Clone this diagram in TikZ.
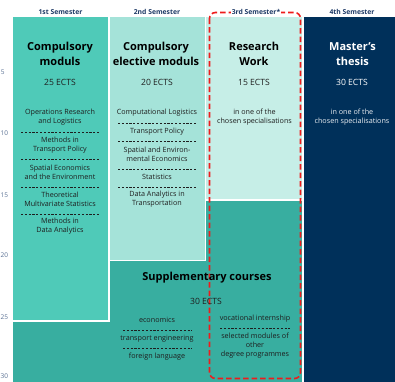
\documentclass[tikz,border=0pt]{standalone}
\usepackage{fontspec}
\setmainfont{Open Sans}
\definecolor{cA}{HTML}{4FCAB8}
\definecolor{cB}{HTML}{A5E3D9}
\definecolor{cC}{HTML}{C6EEE7}
\definecolor{cS}{HTML}{38AEA0}
\definecolor{cN}{HTML}{00305A}
\definecolor{hdrc}{HTML}{1E3A66}
\definecolor{axc}{HTML}{5A7194}
\definecolor{txt}{HTML}{1E1E1E}
\definecolor{redd}{HTML}{EE1C1C}
\tikzset{
  region/.style={draw=white, line width=1.2pt},
  hdr/.style={font=\fontsize{6.8}{8}\selectfont\bfseries, text=hdrc, inner sep=1pt},
  ttl/.style={font=\fontsize{11}{14.5}\selectfont\bfseries, align=center, text=black},
  ects/.style={font=\fontsize{8.6}{10}\selectfont, text=txt},
  item/.style={font=\fontsize{7.2}{9}\selectfont, align=center, text=txt, inner sep=0pt},
  sep/.style={dash pattern=on 2.2pt off 1.6pt, line width=0.55pt, draw=txt},
  axlbl/.style={font=\fontsize{6.5}{8}\selectfont, text=axc, anchor=west, inner sep=0pt},
}
\begin{document}
\begin{tikzpicture}[x=1pt,y=-1pt]
\useasboundingbox (0,0) rectangle (395,381);
\fill[white] (0,0) rectangle (395,381);
% axis labels
\node[axlbl] (a5) at (0.8,72) {5};
\node[axlbl] (a10) at (0.5,133) {10};
\node[axlbl] (a15) at (0.5,195) {15};
\node[axlbl] (a20) at (0.5,255) {20};
\node[axlbl] (a25) at (0.5,317) {25};
\node[axlbl] (a30) at (0.5,376) {30};
% regions
\filldraw[region, fill=cS] (12,321) -- (109,321) -- (109,260.5) -- (205.5,260.5) -- (205.5,200) -- (303,200) -- (303,384) -- (12,384) -- cycle;
\filldraw[region, fill=cA] (12,16) rectangle (109,321);
\filldraw[region, fill=cB] (109,16) rectangle (205.5,260.5);
\filldraw[region, fill=cC] (205.5,16) rectangle (303,200);
\filldraw[region, fill=cN] (303.5,16) rectangle (397,384);
% red dashed frame
\draw[redd, line width=1.6pt, dash pattern=on 5.5pt off 3pt, rounded corners=6pt] (209.5,12.5) rectangle (300.5,378.5);
% headers
\node[hdr] (h1) at (60.5,12) {1st Semester};
\node[hdr] (h2) at (157,12) {2nd Semester};
\node[hdr, fill=white] (h3) at (256,12) {3rd Semester*};
\node[hdr] (h4) at (352,12) {4th Semester};
% column 1
\node[ttl] (t1) at (60,54) {Compulsory\\moduls};
\node[ects] (e1) at (60,82.5) {25 ECTS};
\node[item] (i11) at (60,117.5) {Operations Research\\and Logistics};
\node[item] (i12) at (60,145) {Methods in\\Transport Policy};
\node[item] (i13) at (60,172.5) {Spatial Economics\\and the Environment};
\node[item] (i14) at (60,199.5) {Theoretical\\Multivariate Statistics};
\node[item] (i15) at (60,226.5) {Methods in\\Data Analytics};
\foreach \yy in {132,159,187,214} \draw[sep] (21,\yy) -- (99,\yy);
% column 2
\node[ttl] (t2) at (156,54) {Compulsory\\elective moduls};
\node[ects] (e2) at (157,82.5) {20 ECTS};
\node[item] (i21) at (157,113) {Computational Logistics};
\node[item] (i22) at (157,132) {Transport Policy};
\node[item] (i23) at (157,154.5) {Spatial and Environ-\\mental Economics};
\node[item] (i24) at (157,177) {Statistics};
\node[item] (i25) at (157,199.5) {Data Analytics in\\Transportation};
\foreach \yy in {123,141,169,187} \draw[sep] (118,\yy) -- (197,\yy);
% column 3
\node[ttl] (t3) at (254,54) {Research\\Work};
\node[ects] (e3) at (254,82.5) {15 ECTS};
\node[item] (i31) at (254.5,117.5) {in one of the\\chosen specialisations};
% column 4
\node[ttl, text=white] (t4) at (352.5,54) {Master's\\thesis};
\node[ects, text=white] (e4) at (352,82.5) {30 ECTS};
\node[item, text=white!92!cN] (i41) at (352,117.5) {in one of the\\chosen specialisations};
% supplementary
\node[ttl] (ts) at (207,278) {Supplementary courses};
\node[ects] (es) at (206,301) {30 ECTS};
\node[item] (s11) at (157,320) {economics};
\node[item] (s12) at (157,338.5) {transport engineering};
\node[item] (s13) at (157,357) {foreign language};
\foreach \yy in {330,348} \draw[sep] (123,\yy) -- (192,\yy);
\node[item] (s21) at (255,319) {vocational internship};
\node[item] (s22) at (255,346) {selected modules of\\other\\degree programmes};
\draw[sep] (220,328) -- (290,328);
\end{tikzpicture}
\end{document}
